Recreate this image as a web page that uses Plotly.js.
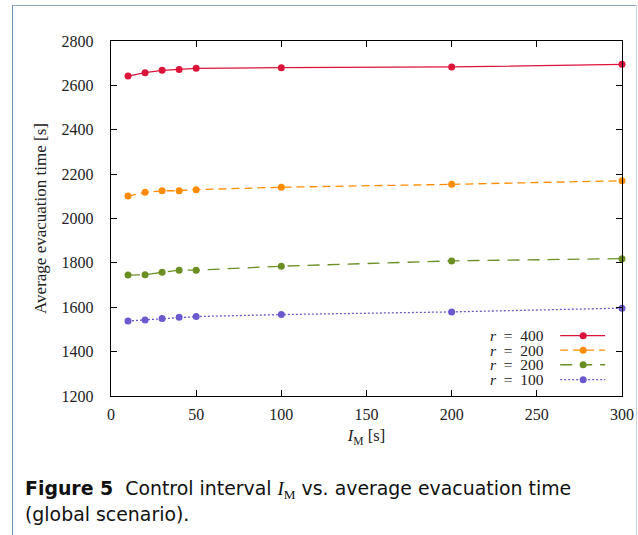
<!DOCTYPE html>
<html>
<head>
<meta charset="utf-8">
<script src="https://cdn.plot.ly/plotly-3.0.1.min.js"></script>
<style>
html,body{margin:0;padding:0;background:#fff;}
#wrap{position:relative;width:638px;height:535px;overflow:hidden;}
#chart{position:absolute;left:0;top:0;width:638px;height:535px;}
.fl{position:absolute;}
</style>
</head>
<body>
<div id="wrap">
<div id="chart"></div>
<div class="fl" style="left:12px;top:5px;width:1px;height:530px;background:#6f8db3;"></div>
<div class="fl" style="left:12px;top:5px;width:625px;height:1px;background:#8ea4c2;"></div>
<div class="fl" style="left:636px;top:5px;width:1px;height:530px;background:#c9d2de;"></div>
</div>
<script>
// Data
const intervals = [10, 20, 30, 40, 50, 100, 200, 300];
const r400 = [2642, 2657, 2668, 2672, 2677, 2680, 2683, 2695];
const r200a = [2101, 2118, 2125, 2125, 2130, 2141, 2154, 2170];
const r200b = [1745, 1746, 1758, 1767, 1767, 1785, 1809, 1819];
const r100 = [1538, 1543, 1549, 1555, 1558, 1567, 1579, 1596];
const seriesNames = ['r = 400', 'r = 200', 'r = 200', 'r = 100'];
const xTicks = [0, 50, 100, 150, 200, 250, 300];
const yTicks = [1200, 1400, 1600, 1800, 2000, 2200, 2400, 2600, 2800];

const colors = ['#dc143c', '#ff8c00', '#6b8e23', '#6a5acd'];
const dashes = ['solid', '8px,5px', '12px,8px', '2px,2px'];
const series = [r400, r200a, r200b, r100];

const serif = 'Liberation Serif, DejaVu Serif, serif';
const traces = series.map((ys, i) => ({
  x: intervals, y: ys, type: 'scatter', mode: 'lines+markers',
  name: seriesNames[i], showlegend: false,
  line: {color: colors[i], width: 1.3, dash: dashes[i]},
  marker: {color: colors[i], size: 7, symbol: 'circle'},
  cliponaxis: false
}));

// legend (gnuplot style: text left, sample right)
const legY = [0.170, 0.129, 0.088, 0.046];
const shapes = [];
const annotations = [];
seriesNames.forEach((n, i) => {
  shapes.push({type: 'line', xref: 'paper', yref: 'paper', x0: 0.879, x1: 0.967, y0: legY[i], y1: legY[i],
    line: {color: colors[i], width: 1.3, dash: dashes[i]}});
  shapes.push({type: 'circle', xref: 'paper', yref: 'paper', xsizemode: 'pixel', ysizemode: 'pixel',
    xanchor: 0.924, yanchor: legY[i], x0: -3.5, x1: 3.5, y0: -3.5, y1: 3.5,
    fillcolor: colors[i], line: {width: 0}});
  const parts = n.split(' = ');
  annotations.push({xref: 'paper', yref: 'paper', x: 0.849, y: legY[i], xanchor: 'right', yanchor: 'middle',
    text: '<i>' + parts[0] + '</i>&nbsp;&nbsp;=&nbsp;&nbsp;' + parts[1], showarrow: false,
    borderpad: 0, height: 13, valign: 'middle',
    font: {family: serif, size: 15.5, color: '#222'}});
});

annotations.push({
  xref: 'paper', yref: 'paper', x: -0.172, y: -0.262, xanchor: 'left', yanchor: 'middle', align: 'left',
  showarrow: false,
  text: '<b>Figure 5</b>  Control interval <span style="font-family:Liberation Serif"><i>I</i><sub>M</sub></span> vs. average evacuation time',
  font: {family: 'DejaVu Sans, sans-serif', size: 18.9, color: '#111'}
});
annotations.push({
  xref: 'paper', yref: 'paper', x: -0.172, y: -0.331, xanchor: 'left', yanchor: 'middle', align: 'left',
  showarrow: false,
  text: '(global scenario).',
  font: {family: 'DejaVu Sans, sans-serif', size: 18.9, color: '#111'}
});

const layout = {
  width: 638, height: 535,
  margin: {l: 111, r: 16, t: 41, b: 139},
  paper_bgcolor: 'rgba(0,0,0,0)', plot_bgcolor: '#fff',
  showlegend: false,
  font: {family: serif, size: 16, color: '#222'},
  xaxis: {
    range: [0, 300], tickvals: xTicks, ticktext: xTicks.map(String),
    showgrid: false, zeroline: false, showline: true, linecolor: '#000', linewidth: 1.3,
    mirror: 'ticks', ticks: 'inside', ticklen: 6, tickcolor: '#000', tickwidth: 1,
    ticklabelstandoff: 3,
    tickfont: {family: serif, size: 16, color: '#222'},
    title: {text: '<i>I</i><sub>M</sub> [s]', standoff: 8, font: {family: serif, size: 16.5, color: '#222'}}
  },
  yaxis: {
    range: [1200, 2800], tickvals: yTicks, ticktext: yTicks.map(String),
    showgrid: false, zeroline: false, showline: true, linecolor: '#000', linewidth: 1.3,
    mirror: 'ticks', ticks: 'inside', ticklen: 6, tickcolor: '#000', tickwidth: 1,
    ticklabelstandoff: 13,
    tickfont: {family: serif, size: 16, color: '#222'},
    title: {text: 'Average evacuation time [s]', standoff: 10, font: {family: serif, size: 17, color: '#222'}}
  },
  shapes: shapes,
  annotations: annotations
};

Plotly.newPlot('chart', traces, layout, {displayModeBar: false, staticPlot: true});
</script>
</body>
</html>
